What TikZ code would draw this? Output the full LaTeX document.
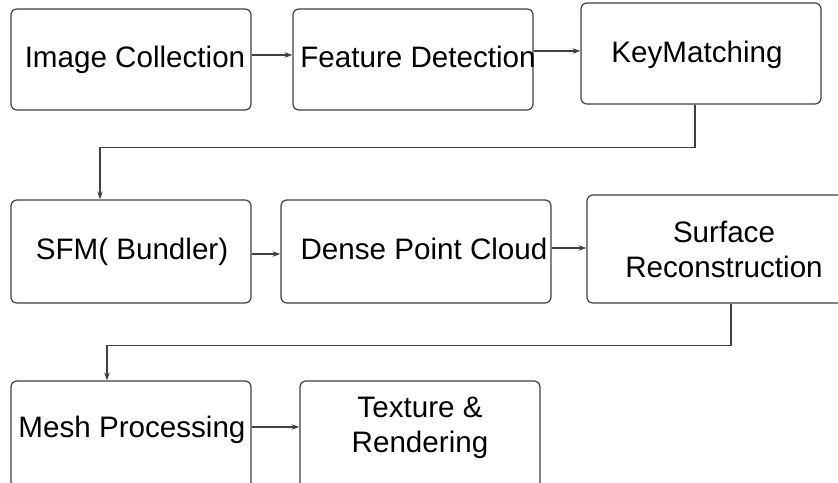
\documentclass[tikz,border=0pt]{standalone}
\usepackage{fontspec}
\setmainfont{Liberation Sans}
\usetikzlibrary{arrows.meta}
\definecolor{linegray}{HTML}{404040}
\begin{document}
\begin{tikzpicture}[x=1pt,y=-1pt,
  box/.style={draw=linegray, line width=1.2pt, rounded corners=6pt, inner sep=0pt},
  lbl/.style={font=\fontsize{29.6}{35}\selectfont, inner sep=0pt, anchor=base, align=center, text=black},
  arr/.style={draw=linegray, line width=1.1pt, -{Stealth[length=8pt,width=5.5pt]}}]
\useasboundingbox (0,0) rectangle (838,482);
\clip (0,0) rectangle (838,482);
\fill[white] (0,0) rectangle (838,482);
% boxes
\node[box, minimum width=240pt, minimum height=101pt] (b1) at (131,59.5) {};
\node[box, minimum width=240pt, minimum height=101pt] (b2) at (413,59.5) {};
\node[box, minimum width=240pt, minimum height=101pt] (b3) at (701,53.5) {};
\node[box, minimum width=240pt, minimum height=103pt] (b4) at (131,251.5) {};
\node[box, minimum width=270pt, minimum height=103pt] (b5) at (416,251.5) {};
\node[box, minimum width=263pt, minimum height=108pt] (b6) at (718.5,249) {};
\node[box, minimum width=240pt, minimum height=107pt] (b7) at (131,434.5) {};
\node[box, minimum width=240pt, minimum height=107pt] (b8) at (420,434.5) {};
% texts
\node[lbl] (t1) at (135,67) {Image Collection};
\node[lbl] (t2) at (418,67) {Feature Detection};
\node[lbl] (t3) at (697,62) {KeyMatching};
\node[lbl] (t4) at (132,259) {SFM( Bundler)};
\node[lbl] (t5) at (424,259) {Dense Point Cloud};
\node[lbl] (t6) at (724,277) {Surface\\Reconstruction};
\node[lbl] (t7) at (132,437) {Mesh Processing};
\node[lbl] (t8) at (420,452) {Texture \&\\Rendering};
% connectors
\draw[arr] ([yshift=4.5pt]b1.east) -- ([yshift=4.5pt]b2.west);
\draw[arr] ([yshift=8.5pt]b2.east) -- ([yshift=2.5pt]b3.west);
\draw[arr] ([xshift=-6pt]b3.south) -- ++(0,43) -| ([xshift=-31pt]b4.north);
\draw[arr] ([yshift=-2.5pt]b4.east) -- ([yshift=-2.5pt]b5.west);
\draw[arr] ([yshift=3.5pt]b5.east) -- ([yshift=1pt]b6.west);
\draw[arr] ([xshift=12.5pt]b6.south) -- ++(0,42) -| ([xshift=-24pt]b7.north);
\draw[arr] ([yshift=7.5pt]b7.east) -- ([yshift=7.5pt]b8.west);
\end{tikzpicture}
\end{document}
